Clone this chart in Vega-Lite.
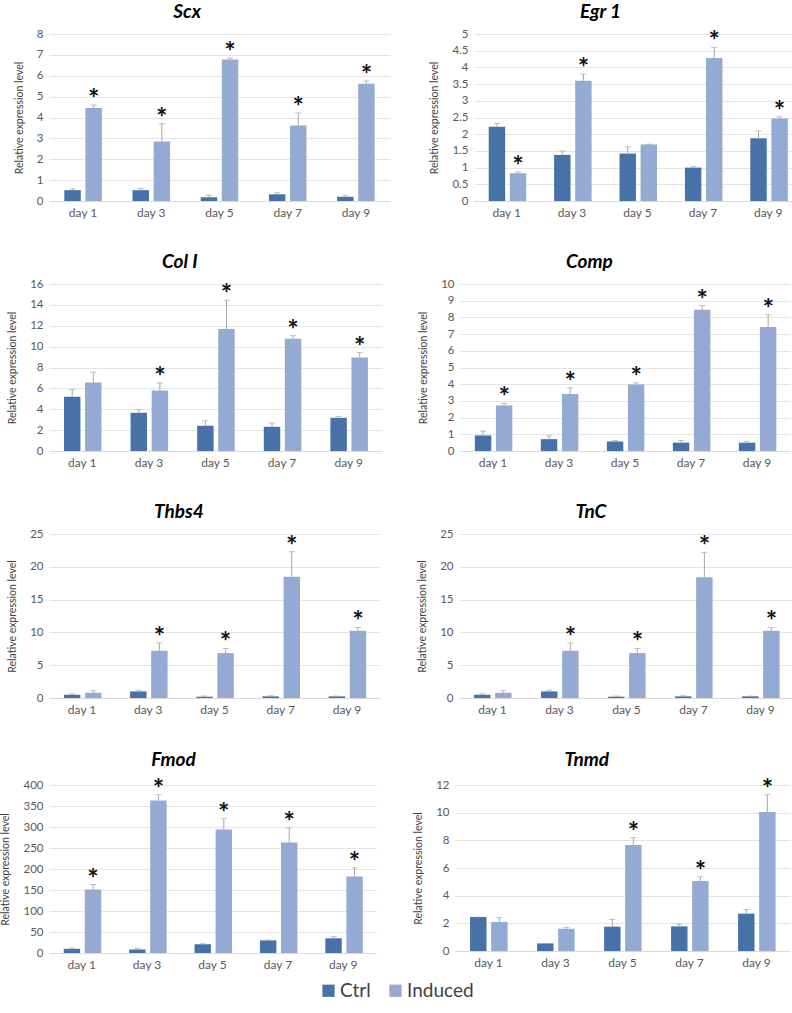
{
  "$schema": "https://vega.github.io/schema/vega-lite/v6.json",
  "padding": {"left": 0, "top": 3, "right": 2, "bottom": 2},
  "background": "white",
  "config": {
    "font": "Lato",
    "view": {"stroke": null},
    "title": {"fontSize": 19, "fontStyle": "italic", "fontWeight": "bold", "color": "#000000", "offset": 6, "font": "Lato", "frame": "bounds", "anchor": "middle", "dx": -15},
    "axis": {"labelFont": "Lato", "labelFontSize": 12, "labelColor": "#595959", "titleFont": "Lato", "titleFontSize": 10.5, "titleFontWeight": "normal", "titleColor": "#404040", "ticks": false, "gridColor": "#e4e4e4", "domainColor": "#d9d9d9", "labelOverlap": false},
    "axisY": {"domain": false, "labelPadding": 6, "titlePadding": 12, "labelFontSize": 11.5},
    "axisX": {"grid": false, "labelAngle": 0, "labelPadding": 6, "title": null},
    "legend": {"orient": "none", "legendX": 270, "legendY": 947, "direction": "horizontal", "labelFontSize": 19, "labelColor": "#404040", "symbolType": "square", "symbolSize": 150, "symbolStrokeWidth": 0, "title": null, "columnPadding": 15, "labelFont": "Lato", "labelOffset": 2}
  },
  "data": {"values": [
    {"gene": "Scx", "day": "day 1", "group": "Ctrl", "v": 0.52, "hi": 0.58, "sig": ""},
    {"gene": "Scx", "day": "day 1", "group": "Induced", "v": 4.45, "hi": 4.6, "sig": "*"},
    {"gene": "Scx", "day": "day 3", "group": "Ctrl", "v": 0.52, "hi": 0.6, "sig": ""},
    {"gene": "Scx", "day": "day 3", "group": "Induced", "v": 2.85, "hi": 3.7, "sig": "*"},
    {"gene": "Scx", "day": "day 5", "group": "Ctrl", "v": 0.18, "hi": 0.28, "sig": ""},
    {"gene": "Scx", "day": "day 5", "group": "Induced", "v": 6.78, "hi": 6.85, "sig": "*"},
    {"gene": "Scx", "day": "day 7", "group": "Ctrl", "v": 0.32, "hi": 0.4, "sig": ""},
    {"gene": "Scx", "day": "day 7", "group": "Induced", "v": 3.62, "hi": 4.22, "sig": "*"},
    {"gene": "Scx", "day": "day 9", "group": "Ctrl", "v": 0.2, "hi": 0.28, "sig": ""},
    {"gene": "Scx", "day": "day 9", "group": "Induced", "v": 5.62, "hi": 5.75, "sig": "*"},

    {"gene": "Egr 1", "day": "day 1", "group": "Ctrl", "v": 2.22, "hi": 2.32, "sig": ""},
    {"gene": "Egr 1", "day": "day 1", "group": "Induced", "v": 0.83, "hi": 0.87, "sig": "*"},
    {"gene": "Egr 1", "day": "day 3", "group": "Ctrl", "v": 1.38, "hi": 1.5, "sig": ""},
    {"gene": "Egr 1", "day": "day 3", "group": "Induced", "v": 3.6, "hi": 3.8, "sig": "*"},
    {"gene": "Egr 1", "day": "day 5", "group": "Ctrl", "v": 1.42, "hi": 1.62, "sig": ""},
    {"gene": "Egr 1", "day": "day 5", "group": "Induced", "v": 1.69, "hi": 1.7, "sig": ""},
    {"gene": "Egr 1", "day": "day 7", "group": "Ctrl", "v": 1.0, "hi": 1.04, "sig": ""},
    {"gene": "Egr 1", "day": "day 7", "group": "Induced", "v": 4.28, "hi": 4.6, "sig": "*"},
    {"gene": "Egr 1", "day": "day 9", "group": "Ctrl", "v": 1.88, "hi": 2.1, "sig": ""},
    {"gene": "Egr 1", "day": "day 9", "group": "Induced", "v": 2.47, "hi": 2.52, "sig": "*"},

    {"gene": "Col I", "day": "day 1", "group": "Ctrl", "v": 5.19, "hi": 5.9, "sig": ""},
    {"gene": "Col I", "day": "day 1", "group": "Induced", "v": 6.56, "hi": 7.55, "sig": ""},
    {"gene": "Col I", "day": "day 3", "group": "Ctrl", "v": 3.66, "hi": 3.98, "sig": ""},
    {"gene": "Col I", "day": "day 3", "group": "Induced", "v": 5.8, "hi": 6.53, "sig": "*"},
    {"gene": "Col I", "day": "day 5", "group": "Ctrl", "v": 2.42, "hi": 2.9, "sig": ""},
    {"gene": "Col I", "day": "day 5", "group": "Induced", "v": 11.69, "hi": 14.43, "sig": "*"},
    {"gene": "Col I", "day": "day 7", "group": "Ctrl", "v": 2.32, "hi": 2.7, "sig": ""},
    {"gene": "Col I", "day": "day 7", "group": "Induced", "v": 10.76, "hi": 11.05, "sig": "*"},
    {"gene": "Col I", "day": "day 9", "group": "Ctrl", "v": 3.18, "hi": 3.31, "sig": ""},
    {"gene": "Col I", "day": "day 9", "group": "Induced", "v": 8.95, "hi": 9.43, "sig": "*"},

    {"gene": "Comp", "day": "day 1", "group": "Ctrl", "v": 0.93, "hi": 1.19, "sig": ""},
    {"gene": "Comp", "day": "day 1", "group": "Induced", "v": 2.73, "hi": 2.85, "sig": "*"},
    {"gene": "Comp", "day": "day 3", "group": "Ctrl", "v": 0.71, "hi": 0.91, "sig": ""},
    {"gene": "Comp", "day": "day 3", "group": "Induced", "v": 3.41, "hi": 3.78, "sig": "*"},
    {"gene": "Comp", "day": "day 5", "group": "Ctrl", "v": 0.57, "hi": 0.63, "sig": ""},
    {"gene": "Comp", "day": "day 5", "group": "Induced", "v": 3.98, "hi": 4.08, "sig": "*"},
    {"gene": "Comp", "day": "day 7", "group": "Ctrl", "v": 0.5, "hi": 0.63, "sig": ""},
    {"gene": "Comp", "day": "day 7", "group": "Induced", "v": 8.46, "hi": 8.71, "sig": "*"},
    {"gene": "Comp", "day": "day 9", "group": "Ctrl", "v": 0.5, "hi": 0.57, "sig": ""},
    {"gene": "Comp", "day": "day 9", "group": "Induced", "v": 7.43, "hi": 8.16, "sig": "*"},

    {"gene": "Thbs4", "day": "day 1", "group": "Ctrl", "v": 0.5, "hi": 0.65, "sig": ""},
    {"gene": "Thbs4", "day": "day 1", "group": "Induced", "v": 0.8, "hi": 1.1, "sig": ""},
    {"gene": "Thbs4", "day": "day 3", "group": "Ctrl", "v": 1.0, "hi": 1.2, "sig": ""},
    {"gene": "Thbs4", "day": "day 3", "group": "Induced", "v": 7.2, "hi": 8.4, "sig": "*"},
    {"gene": "Thbs4", "day": "day 5", "group": "Ctrl", "v": 0.2, "hi": 0.3, "sig": ""},
    {"gene": "Thbs4", "day": "day 5", "group": "Induced", "v": 6.85, "hi": 7.55, "sig": "*"},
    {"gene": "Thbs4", "day": "day 7", "group": "Ctrl", "v": 0.25, "hi": 0.35, "sig": ""},
    {"gene": "Thbs4", "day": "day 7", "group": "Induced", "v": 18.5, "hi": 22.3, "sig": "*"},
    {"gene": "Thbs4", "day": "day 9", "group": "Ctrl", "v": 0.25, "hi": 0.3, "sig": ""},
    {"gene": "Thbs4", "day": "day 9", "group": "Induced", "v": 10.25, "hi": 10.75, "sig": "*"},

    {"gene": "TnC", "day": "day 1", "group": "Ctrl", "v": 0.5, "hi": 0.65, "sig": ""},
    {"gene": "TnC", "day": "day 1", "group": "Induced", "v": 0.8, "hi": 1.1, "sig": ""},
    {"gene": "TnC", "day": "day 3", "group": "Ctrl", "v": 1.0, "hi": 1.2, "sig": ""},
    {"gene": "TnC", "day": "day 3", "group": "Induced", "v": 7.2, "hi": 8.4, "sig": "*"},
    {"gene": "TnC", "day": "day 5", "group": "Ctrl", "v": 0.2, "hi": 0.3, "sig": ""},
    {"gene": "TnC", "day": "day 5", "group": "Induced", "v": 6.85, "hi": 7.55, "sig": "*"},
    {"gene": "TnC", "day": "day 7", "group": "Ctrl", "v": 0.25, "hi": 0.35, "sig": ""},
    {"gene": "TnC", "day": "day 7", "group": "Induced", "v": 18.4, "hi": 22.2, "sig": "*"},
    {"gene": "TnC", "day": "day 9", "group": "Ctrl", "v": 0.25, "hi": 0.3, "sig": ""},
    {"gene": "TnC", "day": "day 9", "group": "Induced", "v": 10.25, "hi": 10.75, "sig": "*"},

    {"gene": "Fmod", "day": "day 1", "group": "Ctrl", "v": 10, "hi": 11.5, "sig": ""},
    {"gene": "Fmod", "day": "day 1", "group": "Induced", "v": 151, "hi": 163, "sig": "*"},
    {"gene": "Fmod", "day": "day 3", "group": "Ctrl", "v": 8.3, "hi": 10.8, "sig": ""},
    {"gene": "Fmod", "day": "day 3", "group": "Induced", "v": 363, "hi": 377, "sig": "*"},
    {"gene": "Fmod", "day": "day 5", "group": "Ctrl", "v": 20.8, "hi": 22, "sig": ""},
    {"gene": "Fmod", "day": "day 5", "group": "Induced", "v": 294, "hi": 320, "sig": "*"},
    {"gene": "Fmod", "day": "day 7", "group": "Ctrl", "v": 30, "hi": 31, "sig": ""},
    {"gene": "Fmod", "day": "day 7", "group": "Induced", "v": 263, "hi": 298, "sig": "*"},
    {"gene": "Fmod", "day": "day 9", "group": "Ctrl", "v": 35, "hi": 39, "sig": ""},
    {"gene": "Fmod", "day": "day 9", "group": "Induced", "v": 182, "hi": 203, "sig": "*"},

    {"gene": "Tnmd", "day": "day 1", "group": "Ctrl", "v": 2.46, "hi": 2.46, "sig": ""},
    {"gene": "Tnmd", "day": "day 1", "group": "Induced", "v": 2.1, "hi": 2.41, "sig": ""},
    {"gene": "Tnmd", "day": "day 3", "group": "Ctrl", "v": 0.55, "hi": 0.55, "sig": ""},
    {"gene": "Tnmd", "day": "day 3", "group": "Induced", "v": 1.61, "hi": 1.71, "sig": ""},
    {"gene": "Tnmd", "day": "day 5", "group": "Ctrl", "v": 1.76, "hi": 2.29, "sig": ""},
    {"gene": "Tnmd", "day": "day 5", "group": "Induced", "v": 7.66, "hi": 8.2, "sig": "*"},
    {"gene": "Tnmd", "day": "day 7", "group": "Ctrl", "v": 1.78, "hi": 1.95, "sig": ""},
    {"gene": "Tnmd", "day": "day 7", "group": "Induced", "v": 5.06, "hi": 5.37, "sig": "*"},
    {"gene": "Tnmd", "day": "day 9", "group": "Ctrl", "v": 2.7, "hi": 3.0, "sig": ""},
    {"gene": "Tnmd", "day": "day 9", "group": "Induced", "v": 10.05, "hi": 11.3, "sig": "*"}
  ]},
  "spacing": 35,
  "vconcat": [
    {"spacing": 39, "hconcat": [
      {"title": "Scx", "width": 341, "height": 167, "transform": [{"filter": "datum.gene === 'Scx'"}],
       "encoding": {"x": {"field": "day", "type": "nominal", "scale": {"paddingInner": 0.45, "paddingOuter": 0.225}}, "xOffset": {"field": "group", "type": "nominal", "scale": {"paddingInner": 0.22}}},
       "layer": [
        {"mark": {"type": "bar"}, "encoding": {"y": {"field": "v", "type": "quantitative", "scale": {"domain": [0, 8], "nice": false}, "axis": {"tickCount": 8, "title": "Relative expression level"}}, "color": {"field": "group", "type": "nominal", "scale": {"domain": ["Ctrl", "Induced"], "range": ["#4672a8", "#94aad2"]}}}},
        {"mark": {"type": "rule", "color": "#a6a6a6", "strokeWidth": 1}, "encoding": {"y": {"field": "v", "type": "quantitative"}, "y2": {"field": "hi"}}},
        {"mark": {"type": "tick", "color": "#a6a6a6", "thickness": 1, "size": 6}, "encoding": {"y": {"field": "hi", "type": "quantitative"}}},
        {"mark": {"type": "text", "fontSize": 27, "fontWeight": "bold", "baseline": "alphabetic", "dy": 3, "color": "#111111"}, "encoding": {"y": {"field": "hi", "type": "quantitative"}, "text": {"field": "sig"}}}
       ]},
      {"title": "Egr 1", "width": 327, "height": 167, "transform": [{"filter": "datum.gene === 'Egr 1'"}],
       "encoding": {"x": {"field": "day", "type": "nominal", "scale": {"paddingInner": 0.45, "paddingOuter": 0.225}}, "xOffset": {"field": "group", "type": "nominal", "scale": {"paddingInner": 0.22}}},
       "layer": [
        {"mark": {"type": "bar"}, "encoding": {"y": {"field": "v", "type": "quantitative", "scale": {"domain": [0, 5], "nice": false}, "axis": {"tickCount": 10, "format": ".1~f", "title": "Relative expression level"}}, "color": {"field": "group", "type": "nominal"}}},
        {"mark": {"type": "rule", "color": "#a6a6a6", "strokeWidth": 1}, "encoding": {"y": {"field": "v", "type": "quantitative"}, "y2": {"field": "hi"}}},
        {"mark": {"type": "tick", "color": "#a6a6a6", "thickness": 1, "size": 6}, "encoding": {"y": {"field": "hi", "type": "quantitative"}}},
        {"mark": {"type": "text", "fontSize": 27, "fontWeight": "bold", "baseline": "alphabetic", "dy": 3, "color": "#111111"}, "encoding": {"y": {"field": "hi", "type": "quantitative"}, "text": {"field": "sig"}}}
       ]}
    ]},
    {"spacing": 36, "hconcat": [
      {"title": "Col I", "width": 333, "height": 167, "transform": [{"filter": "datum.gene === 'Col I'"}],
       "encoding": {"x": {"field": "day", "type": "nominal", "scale": {"paddingInner": 0.45, "paddingOuter": 0.225}}, "xOffset": {"field": "group", "type": "nominal", "scale": {"paddingInner": 0.22}}},
       "layer": [
        {"mark": {"type": "bar"}, "encoding": {"y": {"field": "v", "type": "quantitative", "scale": {"domain": [0, 16], "nice": false}, "axis": {"tickCount": 8, "title": "Relative expression level"}}, "color": {"field": "group", "type": "nominal"}}},
        {"mark": {"type": "rule", "color": "#a6a6a6", "strokeWidth": 1}, "encoding": {"y": {"field": "v", "type": "quantitative"}, "y2": {"field": "hi"}}},
        {"mark": {"type": "tick", "color": "#a6a6a6", "thickness": 1, "size": 6}, "encoding": {"y": {"field": "hi", "type": "quantitative"}}},
        {"mark": {"type": "text", "fontSize": 27, "fontWeight": "bold", "baseline": "alphabetic", "dy": 3, "color": "#111111"}, "encoding": {"y": {"field": "hi", "type": "quantitative"}, "text": {"field": "sig"}}}
       ]},
      {"title": "Comp", "width": 330, "height": 167, "transform": [{"filter": "datum.gene === 'Comp'"}],
       "encoding": {"x": {"field": "day", "type": "nominal", "scale": {"paddingInner": 0.45, "paddingOuter": 0.225}}, "xOffset": {"field": "group", "type": "nominal", "scale": {"paddingInner": 0.22}}},
       "layer": [
        {"mark": {"type": "bar"}, "encoding": {"y": {"field": "v", "type": "quantitative", "scale": {"domain": [0, 10], "nice": false}, "axis": {"tickCount": 10, "title": "Relative expression level"}}, "color": {"field": "group", "type": "nominal"}}},
        {"mark": {"type": "rule", "color": "#a6a6a6", "strokeWidth": 1}, "encoding": {"y": {"field": "v", "type": "quantitative"}, "y2": {"field": "hi"}}},
        {"mark": {"type": "tick", "color": "#a6a6a6", "thickness": 1, "size": 6}, "encoding": {"y": {"field": "hi", "type": "quantitative"}}},
        {"mark": {"type": "text", "fontSize": 27, "fontWeight": "bold", "baseline": "alphabetic", "dy": 3, "color": "#111111"}, "encoding": {"y": {"field": "hi", "type": "quantitative"}, "text": {"field": "sig"}}}
       ]}
    ]},
    {"spacing": 37, "hconcat": [
      {"title": "Thbs4", "width": 331, "height": 164, "transform": [{"filter": "datum.gene === 'Thbs4'"}],
       "encoding": {"x": {"field": "day", "type": "nominal", "scale": {"paddingInner": 0.45, "paddingOuter": 0.225}}, "xOffset": {"field": "group", "type": "nominal", "scale": {"paddingInner": 0.22}}},
       "layer": [
        {"mark": {"type": "bar"}, "encoding": {"y": {"field": "v", "type": "quantitative", "scale": {"domain": [0, 25], "nice": false}, "axis": {"tickCount": 5, "title": "Relative expression level"}}, "color": {"field": "group", "type": "nominal"}}},
        {"mark": {"type": "rule", "color": "#a6a6a6", "strokeWidth": 1}, "encoding": {"y": {"field": "v", "type": "quantitative"}, "y2": {"field": "hi"}}},
        {"mark": {"type": "tick", "color": "#a6a6a6", "thickness": 1, "size": 6}, "encoding": {"y": {"field": "hi", "type": "quantitative"}}},
        {"mark": {"type": "text", "fontSize": 27, "fontWeight": "bold", "baseline": "alphabetic", "dy": 3, "color": "#111111"}, "encoding": {"y": {"field": "hi", "type": "quantitative"}, "text": {"field": "sig"}}}
       ]},
      {"title": "TnC", "width": 335, "height": 164, "transform": [{"filter": "datum.gene === 'TnC'"}],
       "encoding": {"x": {"field": "day", "type": "nominal", "scale": {"paddingInner": 0.45, "paddingOuter": 0.225}}, "xOffset": {"field": "group", "type": "nominal", "scale": {"paddingInner": 0.22}}},
       "layer": [
        {"mark": {"type": "bar"}, "encoding": {"y": {"field": "v", "type": "quantitative", "scale": {"domain": [0, 25], "nice": false}, "axis": {"tickCount": 5, "title": "Relative expression level"}}, "color": {"field": "group", "type": "nominal"}}},
        {"mark": {"type": "rule", "color": "#a6a6a6", "strokeWidth": 1}, "encoding": {"y": {"field": "v", "type": "quantitative"}, "y2": {"field": "hi"}}},
        {"mark": {"type": "tick", "color": "#a6a6a6", "thickness": 1, "size": 6}, "encoding": {"y": {"field": "hi", "type": "quantitative"}}},
        {"mark": {"type": "text", "fontSize": 27, "fontWeight": "bold", "baseline": "alphabetic", "dy": 3, "color": "#111111"}, "encoding": {"y": {"field": "hi", "type": "quantitative"}, "text": {"field": "sig"}}}
       ]}
    ]},
    {"spacing": 37, "hconcat": [
      {"title": "Fmod", "width": 327, "height": 168, "transform": [{"filter": "datum.gene === 'Fmod'"}],
       "encoding": {"x": {"field": "day", "type": "nominal", "scale": {"paddingInner": 0.45, "paddingOuter": 0.225}}, "xOffset": {"field": "group", "type": "nominal", "scale": {"paddingInner": 0.22}}},
       "layer": [
        {"mark": {"type": "bar"}, "encoding": {"y": {"field": "v", "type": "quantitative", "scale": {"domain": [0, 400], "nice": false}, "axis": {"tickCount": 8, "title": "Relative expression level"}}, "color": {"field": "group", "type": "nominal"}}},
        {"mark": {"type": "rule", "color": "#a6a6a6", "strokeWidth": 1}, "encoding": {"y": {"field": "v", "type": "quantitative"}, "y2": {"field": "hi"}}},
        {"mark": {"type": "tick", "color": "#a6a6a6", "thickness": 1, "size": 6}, "encoding": {"y": {"field": "hi", "type": "quantitative"}}},
        {"mark": {"type": "text", "fontSize": 27, "fontWeight": "bold", "baseline": "alphabetic", "dy": 3, "color": "#111111"}, "encoding": {"y": {"field": "hi", "type": "quantitative"}, "text": {"field": "sig"}}}
       ]},
      {"title": "Tnmd", "width": 335, "height": 166, "transform": [{"filter": "datum.gene === 'Tnmd'"}],
       "encoding": {"x": {"field": "day", "type": "nominal", "scale": {"paddingInner": 0.45, "paddingOuter": 0.225}}, "xOffset": {"field": "group", "type": "nominal", "scale": {"paddingInner": 0.22}}},
       "layer": [
        {"mark": {"type": "bar"}, "encoding": {"y": {"field": "v", "type": "quantitative", "scale": {"domain": [0, 12], "nice": false}, "axis": {"tickCount": 6, "title": "Relative expression level"}}, "color": {"field": "group", "type": "nominal"}}},
        {"mark": {"type": "rule", "color": "#a6a6a6", "strokeWidth": 1}, "encoding": {"y": {"field": "v", "type": "quantitative"}, "y2": {"field": "hi"}}},
        {"mark": {"type": "tick", "color": "#a6a6a6", "thickness": 1, "size": 6}, "encoding": {"y": {"field": "hi", "type": "quantitative"}}},
        {"mark": {"type": "text", "fontSize": 27, "fontWeight": "bold", "baseline": "alphabetic", "dy": 3, "color": "#111111"}, "encoding": {"y": {"field": "hi", "type": "quantitative"}, "text": {"field": "sig"}}}
       ]}
    ]}
  ]
}
